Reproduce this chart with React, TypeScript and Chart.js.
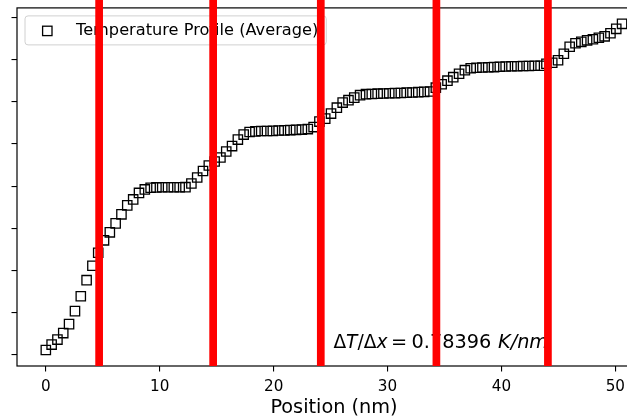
import React, { useEffect, useRef } from 'react';
import { Chart, registerables } from 'chart.js';

Chart.register(...registerables);

// Bin centres along the sample (nm)
const positions = [
  0, 0.51, 1.02, 1.53, 2.04, 2.56, 3.07, 3.58, 4.09, 4.6,
  5.11, 5.62, 6.13, 6.64, 7.15, 7.67, 8.18, 8.69, 9.2, 9.71,
  10.22, 10.73, 11.24, 11.75, 12.26, 12.78, 13.29, 13.8, 14.31, 14.82,
  15.33, 15.84, 16.35, 16.86, 17.37, 17.89, 18.4, 18.91, 19.42, 19.93,
  20.44, 20.95, 21.46, 21.97, 22.48, 23.0, 23.51, 24.02, 24.53, 25.04,
  25.55, 26.06, 26.57, 27.08, 27.59, 28.11, 28.62, 29.13, 29.64, 30.15,
  30.66, 31.17, 31.68, 32.19, 32.7, 33.22, 33.73, 34.24, 34.75, 35.26,
  35.77, 36.28, 36.79, 37.3, 37.81, 38.33, 38.84, 39.35, 39.86, 40.37,
  40.88, 41.39, 41.9, 42.41, 42.92, 43.44, 43.95, 44.46, 44.97, 45.48,
  45.99, 46.5, 47.01, 47.52, 48.03, 48.55, 49.06, 49.57, 50.08, 50.59,
];

// Average temperature in each bin (K)
const temperatures = [
  290.59, 291.24, 291.83, 292.6, 293.66, 295.2, 296.97, 298.87, 300.58, 302.12,
  303.59, 304.54, 305.6, 306.67, 307.73, 308.44, 309.21, 309.62, 309.82, 309.86,
  309.88, 309.88, 309.88, 309.88, 309.89, 310.33, 311.04, 311.81, 312.46, 312.93,
  313.4, 314.11, 314.76, 315.53, 316.12, 316.42, 316.5, 316.54, 316.54, 316.56,
  316.6, 316.62, 316.65, 316.68, 316.71, 316.77, 317.01, 317.66, 318.01, 318.61,
  319.31, 319.91, 320.2, 320.5, 320.79, 320.91, 320.93, 320.97, 320.99, 321.02,
  321.03, 321.05, 321.09, 321.11, 321.15, 321.18, 321.23, 321.68, 322.09, 322.51,
  322.92, 323.33, 323.75, 323.98, 324.04, 324.07, 324.1, 324.12, 324.16, 324.18,
  324.22, 324.22, 324.24, 324.25, 324.28, 324.28, 324.51, 324.63, 324.93, 325.7,
  326.52, 326.94, 327.11, 327.29, 327.41, 327.59, 327.76, 328.12, 328.65, 329.24,
];

// Interface positions (nm), drawn as red vertical bars
const interfaces = [4.68, 14.69, 24.14, 34.29, 44.08];

const xTickValues = [0, 10, 20, 30, 40, 50];
const yTickValues = [290, 295, 300, 305, 310, 315, 320, 325, 330];

const seriesLabel = 'Temperature Profile (Average)';
const xAxisLabel = 'Position (nm)';
const gradientText = '0.78396';

const FONT = '"DejaVu Sans", sans-serif';

const overlayPlugin = {
  id: 'overlay',
  beforeDatasetsDraw(chart: any) {
    const { ctx, chartArea } = chart;
    const { left, top, right, bottom } = chartArea;
    ctx.save();
    ctx.strokeStyle = '#000';
    ctx.lineWidth = 1.2;
    ctx.strokeRect(left, top, right - left, bottom - top);
    ctx.restore();
  },
  afterDatasetsDraw(chart: any) {
    const { ctx, chartArea } = chart;
    const { left, top, right, bottom } = chartArea;
    ctx.save();
    // annotation: ΔT/Δx = value K/nm
    const size = 19.3;
    const reg = `${size}px ${FONT}`;
    const ita = `italic ${size}px ${FONT}`;
    const reg2 = `18.6px ${FONT}`;
    const ita2 = `italic 18.6px ${FONT}`;
    const x0 = left + 0.5 * (right - left);
    const y = bottom - 18.5;
    ctx.fillStyle = '#000';
    ctx.textBaseline = 'alphabetic';
    ctx.textAlign = 'left';
    const drawSeq = (parts: [string, string][], startX: number) => {
      let x = startX;
      for (const [t, f] of parts) {
        ctx.font = f;
        ctx.fillText(t, x, y);
        x += ctx.measureText(t).width;
      }
    };
    drawSeq([['Δ', reg2], ['T', ita2], ['/', reg2], ['Δ', reg2], ['x', ita2]], x0 - 0.6);
    ctx.font = reg;
    ctx.textAlign = 'center';
    ctx.fillText('=', x0 + 65, y);
    ctx.textAlign = 'left';
    ctx.fillText(gradientText, x0 + 77.6, y);
    drawSeq([['K', ita], ['/', ita], ['nm', ita]], x0 + 164);

    // legend
    const lx = left + 8;
    const ly = top + 8;
    ctx.font = `16.2px ${FONT}`;
    const textX = left + 59;
    const tw = ctx.measureText(seriesLabel).width;
    const lw = textX + tw + 8 - lx;
    const lh = 29;
    ctx.beginPath();
    ctx.roundRect(lx, ly, lw, lh, 3);
    ctx.fillStyle = 'rgba(255,255,255,0.8)';
    ctx.fill();
    ctx.strokeStyle = '#d0d0d0';
    ctx.lineWidth = 1;
    ctx.stroke();
    ctx.strokeStyle = '#000';
    ctx.lineWidth = 1.3;
    ctx.strokeRect(left + 25.6, top + 18.3, 9.4, 9.4);
    ctx.fillStyle = '#000';
    ctx.textBaseline = 'middle';
    ctx.fillText(seriesLabel, textX, ly + lh / 2);
    ctx.restore();
  },
  afterDraw(chart: any) {
    const { ctx, chartArea, scales } = chart;
    ctx.save();
    ctx.fillStyle = '#ff0000';
    for (const v of interfaces) {
      const px = scales.x.getPixelForValue(v);
      ctx.fillRect(px - 3.85, 0, 7.7, chartArea.bottom);
    }
    ctx.restore();
  },
};

export default function App() {
  const ref = useRef<HTMLCanvasElement>(null);
  useEffect(() => {
    if (!ref.current) return;
    const chart = new Chart(ref.current, {
      type: 'scatter',
      data: {
        datasets: [
          {
            label: seriesLabel,
            data: positions.map((x, i) => ({ x, y: temperatures[i] })),
            pointStyle: 'rect',
            pointRadius: 6.6,
            pointHoverRadius: 6.6,
            borderColor: '#000',
            backgroundColor: 'rgba(0,0,0,0)',
            borderWidth: 1.3,
            showLine: false,
          },
        ],
      },
      options: {
        responsive: false,
        animation: false,
        events: [],
        layout: { padding: { left: 0, top: 7, right: 29, bottom: 0 } },
        plugins: { legend: { display: false }, tooltip: { enabled: false } },
        scales: {
          x: {
            type: 'linear',
            min: -2.53,
            max: 53.13,
            afterBuildTicks: (s: any) => {
              s.ticks = xTickValues.map((v) => ({ value: v }));
            },
            afterFit: (s: any) => {
              s.height = 54;
            },
            grid: { display: true, drawOnChartArea: false, drawTicks: true, tickLength: 5.5, color: '#000', lineWidth: 1.1 },
            border: { display: false },
            ticks: { color: '#000', font: { size: 15.2, family: FONT }, padding: 6, maxRotation: 0, autoSkip: false },
            title: { display: true, text: xAxisLabel, color: '#000', font: { size: 19.3, family: FONT }, padding: { top: 0, bottom: 0 } },
          },
          y: {
            type: 'linear',
            min: 288.7,
            max: 331.13,
            afterBuildTicks: (s: any) => {
              s.ticks = yTickValues.map((v) => ({ value: v }));
            },
            afterFit: (s: any) => {
              s.width = 17;
            },
            grid: { display: true, drawOnChartArea: false, drawTicks: true, tickLength: 5.5, color: '#000', lineWidth: 1.1 },
            border: { display: false },
            ticks: { callback: () => '', padding: 0 },
          },
        },
      },
      plugins: [overlayPlugin],
    });
    return () => chart.destroy();
  }, []);
  return (
    <div style={{ position: 'fixed', left: 0, top: 0, width: 627, height: 419, overflow: 'hidden', background: '#fff' }}>
      <canvas ref={ref} width={680} height={420} style={{ display: 'block' }} />
    </div>
  );
}
